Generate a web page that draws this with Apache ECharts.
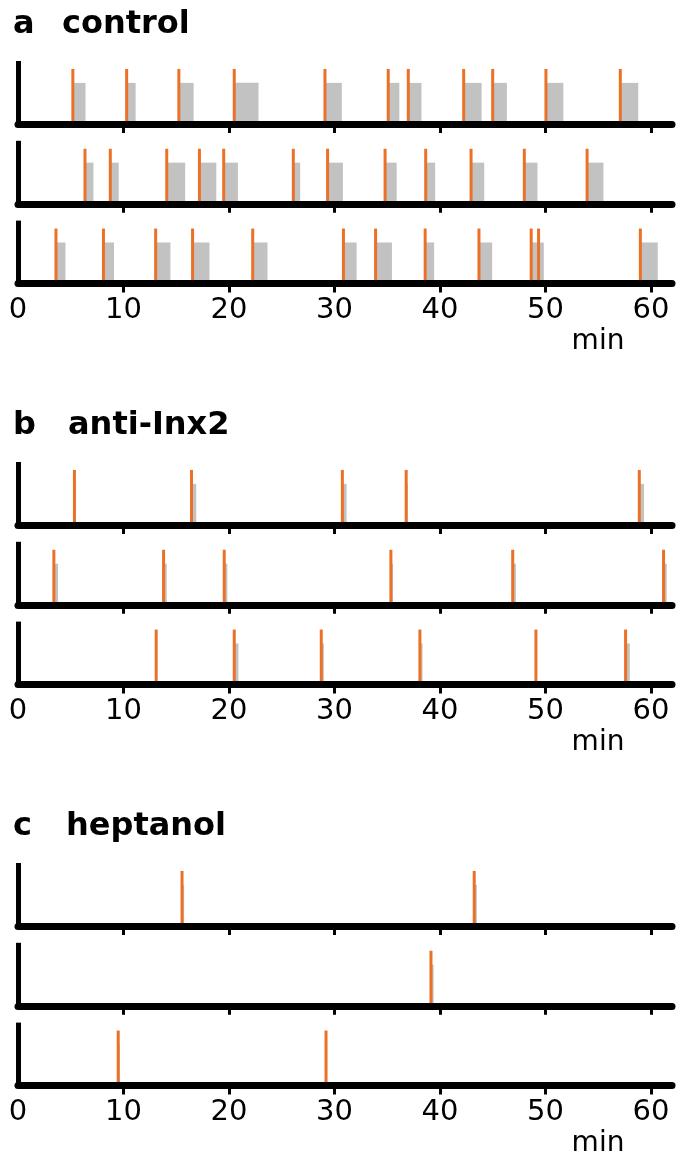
<!DOCTYPE html>
<html>
<head>
<meta charset="utf-8">
<title>Event trains</title>
<script src="https://cdn.jsdelivr.net/npm/echarts@6/dist/echarts.min.js"></script>
<style>
  html, body { margin: 0; padding: 0; background: #fff; }
  #chart { width: 685px; height: 1167px; }
</style>
</head>
<body>
<div id="chart"></div>
<script>
// x axis (minutes)
const X_MAX = 62;
const TICKS = [0, 10, 20, 30, 40, 50, 60];

// a: control -- onset times (min) and durations (min)
const controlOn1 = [5.2, 10.3, 15.25, 20.5, 29.1, 35.1, 37.0, 42.25, 45.0, 50.05, 57.1];
const controlDur1 = [1.2, 0.85, 1.4, 2.3, 1.6, 1.05, 1.25, 1.7, 1.35, 1.65, 1.7];
const controlOn2 = [6.35, 8.75, 14.1, 17.2, 19.5, 26.1, 29.35, 34.8, 38.65, 42.95, 48.0, 53.95];
const controlDur2 = [0.8, 0.8, 1.75, 1.6, 1.35, 0.65, 1.45, 1.1, 0.9, 1.25, 1.25, 1.55];
const controlOn3 = [3.6, 8.1, 13.05, 16.55, 22.25, 30.85, 33.9, 38.6, 43.7, 48.65, 49.35, 59.0];
const controlDur3 = [0.9, 1.0, 1.4, 1.6, 1.4, 1.25, 1.55, 0.85, 1.25, 0.7, 0.5, 1.65];

// b: anti-Inx2
const inxOn1 = [5.35, 16.45, 30.75, 36.8, 58.9];
const inxDur1 = [0.15, 0.45, 0.4, 0.15, 0.45];
const inxOn2 = [3.4, 13.8, 19.55, 35.35, 46.9, 61.2];
const inxDur2 = [0.4, 0.3, 0.3, 0.2, 0.3, 0.3];
const inxOn3 = [13.1, 20.5, 28.75, 38.1, 49.1, 57.6];
const inxDur3 = [0.0, 0.4, 0.25, 0.25, 0.0, 0.4];

// c: heptanol
const heptOn1 = [15.55, 43.25];
const heptDur1 = [0.2, 0.25];
const heptOn2 = [39.15];
const heptDur2 = [0.25];
const heptOn3 = [9.5, 29.2];
const heptDur3 = [0.15, 0.1];

const panels = [
  { letter: 'a', name: 'control', nameLeft: 62, rows: [[controlOn1, controlDur1], [controlOn2, controlDur2], [controlOn3, controlDur3]] },
  { letter: 'b', name: 'anti-Inx2', nameLeft: 68, rows: [[inxOn1, inxDur1], [inxOn2, inxDur2], [inxOn3, inxDur3]] },
  { letter: 'c', name: 'heptanol', nameLeft: 66, rows: [[heptOn1, heptDur1], [heptOn2, heptDur2], [heptOn3, heptDur3]] }
];

const FONT = 'DejaVu Sans';
const ORANGE = '#ea7127';
const GRAY = '#c2c2c2';
const ORANGE_H = 0.91;
const GRAY_H = 0.68;

const chart = echarts.init(document.getElementById('chart'));

const grid = [], xAxis = [], yAxis = [], series = [], title = [], graphic = [];

panels.forEach((panel, p) => {
  title.push({
    text: panel.letter, left: 13, top: 9 + 401 * p, padding: 0,
    textStyle: { fontSize: 32, fontWeight: 'bold', fontFamily: FONT, color: '#000' }
  });
  title.push({
    text: panel.name, left: panel.nameLeft, top: 9 + 401 * p, padding: 0,
    textStyle: { fontSize: 32, fontWeight: 'bold', fontFamily: FONT, color: '#000' }
  });

  panel.rows.forEach((row, r) => {
    const idx = p * 3 + r;
    const baseline = 124 + 401 * p + 79.8 * r;
    const last = r === 2;
    grid.push({ left: 18, width: 654, top: baseline - 60.5, height: 60.5 });
    xAxis.push({
      gridIndex: idx, type: 'value', min: 0, max: X_MAX, z: 10,
      axisLine: { show: true, lineStyle: { color: '#000', width: 7 } },
      // no tick at 0, the y axis sits there
      axisTick: { show: true, customValues: TICKS.filter(v => v > 0), length: 9, lineStyle: { color: '#000', width: 3 } },
      axisLabel: { show: last, customValues: TICKS, fontSize: 29, fontFamily: FONT, color: '#000', margin: 12 },
      splitLine: { show: false }
    });
    yAxis.push({
      gridIndex: idx, type: 'value', min: 0, max: 1, z: 10,
      axisLine: { show: true, lineStyle: { color: '#000', width: 5, cap: 'square' } },
      axisTick: { show: false }, axisLabel: { show: false }, splitLine: { show: false }
    });

    const data = row[0].map((t, i) => [t, row[1][i]]);
    series.push({
      type: 'custom', xAxisIndex: idx, yAxisIndex: idx, data: data, silent: true,
      renderItem: (params, api) => {
        const t = api.value(0), d = api.value(1);
        const a = api.coord([t, 0]), b = api.coord([t + d, GRAY_H]);
        return { type: 'rect', shape: { x: a[0], y: b[1], width: b[0] - a[0], height: a[1] - b[1] }, style: { fill: GRAY } };
      }
    });
    series.push({
      type: 'custom', xAxisIndex: idx, yAxisIndex: idx, data: data, silent: true,
      renderItem: (params, api) => {
        const a = api.coord([api.value(0), 0]), b = api.coord([api.value(0), ORANGE_H]);
        return { type: 'rect', shape: { x: a[0] - 1.5, y: b[1], width: 3, height: a[1] - b[1] }, style: { fill: ORANGE } };
      }
    });

    if (last) {
      graphic.push({
        type: 'text', x: 598, y: baseline + 58,
        style: { text: 'min', fontSize: 28, fontFamily: FONT, fill: '#000', textAlign: 'center', textVerticalAlign: 'middle' }
      });
    }
  });
});

chart.setOption({
  animation: false,
  title: title,
  grid: grid,
  xAxis: xAxis,
  yAxis: yAxis,
  series: series,
  graphic: graphic
});
</script>
</body>
</html>
